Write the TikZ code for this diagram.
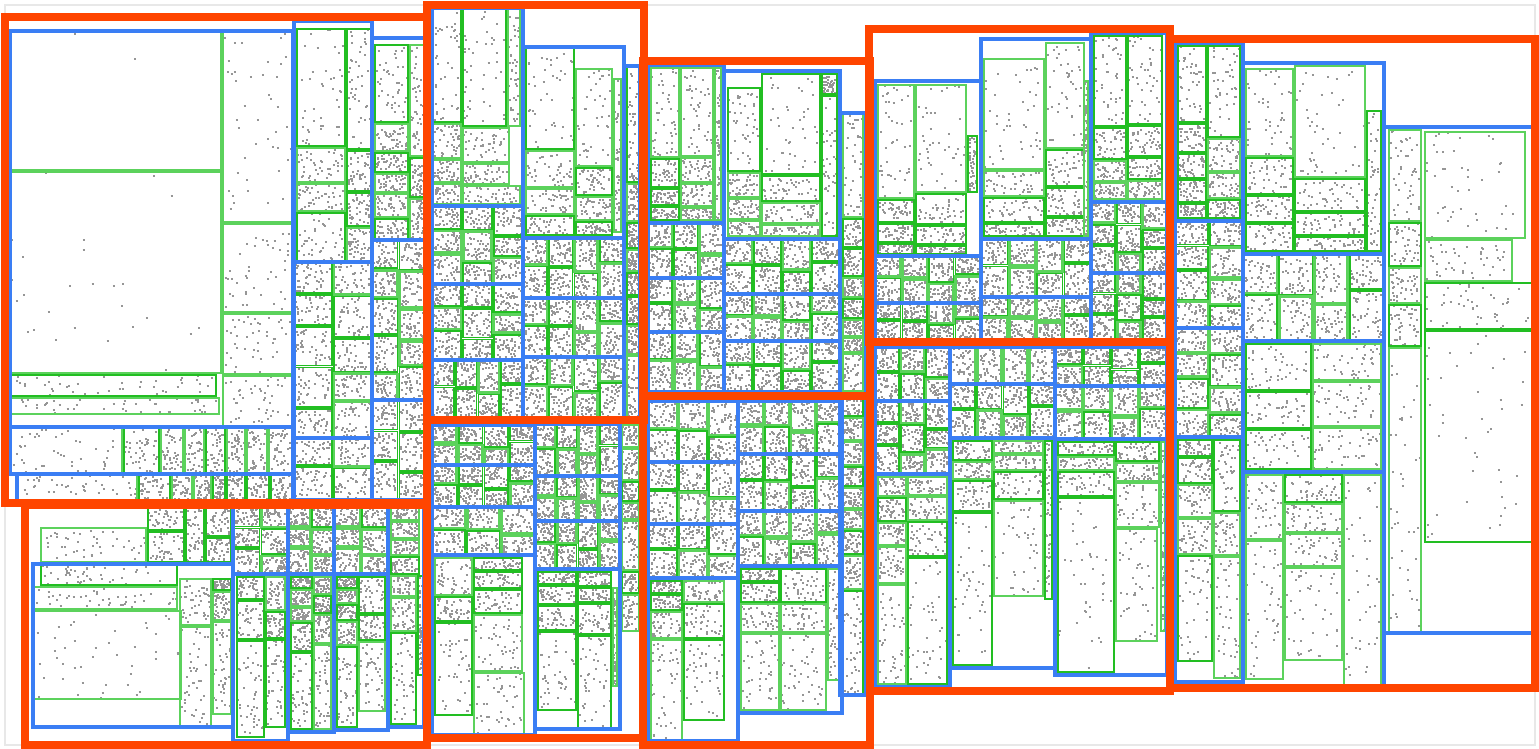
\documentclass[tikz,border=0pt]{standalone}
\definecolor{orng}{RGB}{255,69,0}
\definecolor{blu}{RGB}{58,126,244}
\definecolor{grnA}{RGB}{34,190,34}
\definecolor{grnB}{RGB}{92,210,92}
\definecolor{dotc}{RGB}{150,150,150}
\definecolor{frm}{RGB}{232,232,232}
\tikzset{
  orangebox/.style={draw=orng,line width=8},
  bluebox/.style={draw=blu,line width=3.5},
  greenboxA/.style={draw=grnA,line width=1.8},
  greenboxB/.style={draw=grnB,line width=2.6},
  framebox/.style={draw=frm,line width=1.5},
  dotline/.style={draw=dotc,line width=2,line cap=butt}
}
\newif\ifdotpass
\newcommand\pts[5]{%
  \draw[dotline] \foreach \k in {1,...,#5}{ ({#1+1+(#3-#1-4)*rnd},{#2+2+(#4-#2-4)*rnd}) -- ++(2,0) };}
\newcommand\gc[5][42]{\ifdotpass\pts{#2}{#3}{#4}{#5}{#1}\else
  \pgfmathtruncatemacro\gpar{mod(int(#2+#3),2)}%
  \ifnum\gpar=0 \draw[greenboxA] ({#2+1},{#3+1}) rectangle ({#4-1},{#5-1});\else
  \draw[greenboxB] ({#2+1},{#3+1}) rectangle ({#4-1},{#5-1});\fi\fi}
\newcommand\cg[6]{%
 \foreach \ci in {1,...,#5}{\foreach \cj in {1,...,#6}{%
   \pgfmathsetmacro\gxa{#1+(#3-#1)*(\ci-1)/#5}%
   \pgfmathsetmacro\gxb{#1+(#3-#1)*\ci/#5}%
   \pgfmathsetmacro\gya{#2+(#4-#2)*(\cj-1)/#6 + ((\cj-1)>0)*0.18*(#4-#2)/#6*sin(137*\ci+71*(\cj-1))}%
   \pgfmathsetmacro\gyb{#2+(#4-#2)*\cj/#6 + (\cj<#6)*0.18*(#4-#2)/#6*sin(137*\ci+71*\cj)}%
   \gc{\gxa}{\gya}{\gxb}{\gyb}}}}
\newcommand\cells[1]{\foreach \ax/\ay/\bx/\by in {#1}{\gc{\ax}{\ay}{\bx}{\by}}}
\newcommand\allcells{%
% orange 1
\gc[2]{10}{31}{222}{171}
\gc[26]{10}{171}{222}{374}
\cells{10/374/217/397, 10/397/220/415, 222/31/293/223, 222/223/293/313, 222/313/293/375, 222/375/293/427,
 296/28/346/147, 346/28/372/150, 296/147/346/183, 346/150/372/192, 296/183/346/212, 346/192/372/227, 296/212/346/262, 346/227/372/262,
 374/44/409/123, 374/123/409/152, 374/152/409/173, 374/173/409/193, 374/193/409/218, 374/218/409/240, 409/44/425/157, 409/157/425/198, 409/198/425/240,
 10/427/123/474, 123/427/160/474, 160/427/184/474, 184/427/205/474, 205/427/226/474, 226/427/246/474, 246/427/268/474, 268/427/293/474,
 17/474/138/503, 138/474/171/503, 171/474/193/503, 193/474/212/503, 212/474/226/503, 226/474/246/503, 246/474/270/503, 270/474/293/503}
\cg{294}{262}{372}{438}{2}{5}
\cg{294}{438}{372}{500}{2}{2}
\cg{372}{240}{425}{400}{2}{5}
\cg{372}{400}{425}{500}{2}{3}
% orange 2
\cells{40/527/147/563, 147/503/185/531, 147/531/185/563, 185/503/205/563, 205/503/232/537, 205/537/232/563,
 40/564/178/586, 33/586/178/610, 33/610/182/700, 179/578/212/626, 212/578/232/591, 212/591/232/621, 179/626/212/727, 212/621/232/715,
 236/576/265/600, 265/576/286/611, 236/600/265/640, 265/611/286/639, 236/640/265/738, 265/639/286/728,
 290/576/313/589, 290/589/313/607, 290/607/313/622, 290/622/313/652, 290/652/313/730, 313/576/332/595, 313/595/332/614, 313/614/332/644, 313/644/332/730,
 336/576/358/589, 336/589/358/604, 336/604/358/621, 336/621/358/646, 336/646/358/728, 358/576/386/614, 358/614/386/641, 358/641/386/712,
 390/507/420/521, 390/521/420/539, 390/539/420/556, 390/556/420/575, 390/575/417/597, 390/597/417/632, 390/632/417/725, 417/575/424/676}
\cg{233}{507}{288}{574}{2}{3}
\cg{288}{507}{334}{574}{2}{3}
\cg{334}{507}{388}{574}{2}{3}
% orange 3
\cells{432/8/462/123, 432/123/462/159, 432/159/462/183, 432/183/462/205, 462/8/507/127, 462/127/510/163, 462/163/510/185, 462/185/521/205, 507/8/521/127,
 525/47/575/150, 525/150/575/188, 525/188/575/215, 525/215/575/236, 575/68/613/167, 575/167/613/196, 575/196/613/221, 575/221/613/236, 613/78/622/233,
 626/66/640/183, 626/183/640/222, 626/222/640/249, 626/249/640/272, 626/272/640/296, 626/296/640/325, 626/325/640/355, 626/355/640/418}
\cg{432}{206}{523}{284}{3}{3}
\cg{432}{284}{523}{360}{3}{3}
\cg{432}{360}{523}{418}{4}{2}
\cg{523}{238}{624}{298}{4}{2}
\cg{523}{298}{624}{357}{4}{2}
\cg{523}{357}{624}{418}{4}{2}
% orange 4
\cg{432}{425}{535}{465}{4}{2}
\cg{432}{465}{535}{507}{4}{2}
\cg{432}{507}{535}{555}{3}{2}
\cg{535}{424}{620}{476}{4}{2}
\cg{535}{476}{620}{521}{4}{2}
\cg{535}{521}{620}{569}{4}{2}
\cells{434/557/473/596, 473/557/523/571, 473/571/523/589, 434/596/473/622, 473/589/523/614, 434/622/473/716, 473/614/523/672, 473/672/525/735,
 537/571/577/585, 537/585/577/605, 537/605/577/631, 537/631/577/711, 577/571/612/587, 577/587/612/603, 577/603/612/635, 577/635/612/730, 612/587/618/687,
 621/424/640/448, 621/448/640/481, 621/481/640/502, 621/502/640/520, 621/520/640/571, 621/571/640/594, 621/594/640/632}
% orange 5
\cells{650/67/680/158, 650/158/680/188, 650/188/680/206, 650/206/680/221, 680/67/714/157, 680/157/714/183, 680/183/714/207, 680/207/714/221, 714/67/722/221,
 727/87/761/172, 727/172/761/198, 727/198/761/220, 727/220/761/237, 761/73/821/175, 761/175/821/202, 761/202/821/224, 761/224/821/237, 821/73/838/95, 821/95/838/237,
 842/113/864/218, 842/218/864/248, 842/248/864/277, 842/277/864/298, 842/298/864/319, 842/319/864/337, 842/337/864/353, 842/353/864/392, 842/392/864/417,
 842/417/864/441, 842/441/864/466, 842/466/864/487, 842/487/864/509, 842/509/864/530, 842/530/864/555, 842/555/864/590, 842/590/864/695}
\cg{648}{223}{724}{278}{3}{2}
\cg{648}{278}{724}{332}{3}{2}
\cg{648}{332}{724}{392}{3}{2}
\cg{724}{239}{840}{294}{4}{2}
\cg{724}{294}{840}{341}{4}{2}
\cg{724}{341}{840}{392}{4}{2}
% orange 6
\cg{648}{401}{738}{462}{3}{2}
\cg{648}{462}{738}{524}{3}{2}
\cg{648}{524}{738}{578}{3}{2}
\cg{738}{401}{842}{454}{4}{2}
\cg{738}{454}{842}{511}{4}{2}
\cg{738}{511}{842}{566}{4}{2}
\cells{650/580/683/594, 650/594/683/611, 650/611/683/639, 650/639/683/741, 683/580/725/603, 683/603/725/639, 683/639/725/721,
 740/568/780/582, 740/582/780/603, 740/603/780/633, 740/633/780/711, 780/568/827/603, 780/603/827/633, 780/633/827/711, 827/568/840/681}
% orange 7
\cells{877/84/915/199, 877/199/915/223, 877/223/915/243, 877/243/915/255, 915/84/967/193, 915/193/967/225, 915/225/967/245, 915/245/967/255, 967/135/978/193,
 983/58/1045/170, 983/170/1045/197, 983/197/1045/223, 983/223/1045/237, 1045/42/1085/149, 1045/149/1085/187, 1045/187/1085/217, 1045/217/1085/237, 1083/80/1089/237,
 1093/35/1127/127, 1093/127/1127/160, 1093/160/1127/182, 1093/182/1127/200, 1127/35/1163/125, 1127/125/1163/157, 1127/157/1163/180, 1127/180/1163/200}
\cg{875}{256}{981}{303}{4}{2}
\cg{875}{303}{981}{340}{4}{2}
\cg{981}{239}{1091}{297}{4}{2}
\cg{981}{297}{1091}{340}{4}{2}
\cg{1091}{202}{1167}{273}{3}{3}
\cg{1091}{273}{1167}{340}{3}{3}
% orange 8
\cg{875}{347}{950}{401}{3}{2}
\cg{950}{347}{1055}{384}{4}{1}
\cg{1055}{347}{1167}{386}{4}{2}
\cg{875}{401}{950}{474}{3}{3}
\cg{950}{384}{1055}{438}{4}{2}
\cg{1055}{386}{1167}{439}{4}{2}
\cells{877/476/907/497, 877/497/907/522, 877/522/907/546, 877/546/907/584, 877/584/907/685, 907/476/948/496, 907/496/948/521, 907/521/948/557, 907/557/948/685,
 952/440/993/461, 952/461/993/480, 952/480/993/512, 952/512/993/666, 993/440/1044/454, 993/454/1044/471, 993/471/1044/500, 993/500/1044/597, 1044/440/1053/600,
 1057/441/1115/456, 1057/456/1115/471, 1057/471/1115/497, 1057/497/1115/673, 1115/441/1160/462, 1115/462/1160/482, 1115/482/1160/528, 1115/528/1158/642, 1160/441/1166/632}
% orange 9
\cells{1177/45/1207/123, 1177/123/1207/153, 1177/153/1207/179, 1177/179/1207/203, 1177/203/1207/219, 1207/45/1241/138, 1207/138/1241/172, 1207/172/1241/199, 1207/199/1241/219,
 1177/439/1213/457, 1177/457/1213/484, 1177/484/1213/518, 1177/518/1213/555, 1177/555/1213/662, 1213/439/1241/512, 1213/512/1241/556, 1213/556/1241/679,
 1245/68/1294/157, 1245/157/1294/195, 1245/195/1294/223, 1245/223/1294/252, 1294/65/1366/178, 1294/178/1366/212, 1294/212/1366/236, 1294/236/1366/252, 1366/110/1382/252,
 1245/343/1312/391, 1245/391/1312/429, 1245/429/1312/470, 1312/343/1382/381, 1312/381/1382/427, 1312/427/1382/470,
 1245/474/1284/540, 1245/540/1284/680, 1284/474/1343/503, 1284/503/1343/533, 1284/533/1343/567, 1284/567/1343/661, 1343/474/1382/686,
 1388/129/1422/222, 1388/222/1422/267, 1388/267/1422/304, 1388/304/1422/347, 1388/347/1422/633, 1424/131/1526/239, 1424/239/1513/282, 1424/282/1533/330, 1424/330/1533/543}
\cg{1175}{221}{1243}{328}{2}{4}
\cg{1175}{328}{1243}{437}{2}{4}
\cg{1243}{254}{1384}{341}{4}{2}
}
\begin{document}
\begin{tikzpicture}[x=1pt,y=-1pt]
\pgfmathsetseed{4242}
\useasboundingbox (0,0) rectangle (1539,749);
\draw[framebox] (5,5) rectangle (1535,745);
% ---------- points (first pass) ----------
\dotpasstrue
\allcells
% ---------- green leaves (second pass) ----------
\dotpassfalse
\allcells
% ---------- blue nodes ----------
\foreach \ax/\ay/\bx/\by in {10/31/293/427, 294/21/372/262, 294/262/372/438, 294/438/372/500, 372/38/425/240, 372/240/425/400, 372/400/425/500, 10/427/293/474, 17/474/293/503,
 33/564/233/727, 233/507/288/741, 288/507/334/732, 334/507/388/730, 233/507/388/574, 388/505/424/727,
 432/8/523/206, 432/206/523/284, 432/284/523/360, 432/360/523/418, 523/47/624/238, 523/238/624/298, 523/298/624/357, 523/357/624/418, 624/66/640/418,
 432/425/535/465, 432/465/535/507, 432/507/535/555, 432/555/535/735, 535/424/620/476, 535/476/620/521, 535/521/620/569, 535/569/620/729,
 648/65/724/223, 648/223/724/278, 648/278/724/332, 648/332/724/392, 724/71/840/239, 724/239/840/294, 724/294/840/341, 724/341/840/392, 840/113/866/695,
 648/401/738/462, 648/462/738/524, 648/524/738/578, 648/578/738/741, 738/401/842/454, 738/454/842/511, 738/511/842/566, 738/566/842/713,
 875/81/981/256, 875/256/981/303, 875/303/981/340, 981/39/1091/239, 981/239/1091/297, 981/297/1091/340, 1091/33/1167/202, 1091/202/1167/273, 1091/273/1167/340,
 875/347/950/401, 875/401/950/474, 875/474/950/687, 950/347/1055/384, 950/384/1055/438, 950/438/1055/668, 1055/347/1167/386, 1055/386/1167/439, 1055/439/1167/675,
 1175/43/1243/221, 1175/221/1243/328, 1175/328/1243/437, 1175/437/1243/682, 1243/63/1384/254, 1243/254/1384/341, 1243/341/1384/472, 1243/472/1384/688, 1384/127/1535/633}
 {\draw[bluebox] (\ax,\ay) rectangle (\bx,\by);}
% ---------- orange nodes ----------
\foreach \ax/\ay/\bx/\by in {5/17/427/503, 25/505/427/745, 427/5/644/420, 427/420/643/738, 643/61/870/396, 643/396/870/745, 869/29/1170/342, 870/342/1170/691, 1170/39/1535/688}
 {\draw[orangebox] (\ax,\ay) rectangle (\bx,\by);}
\end{tikzpicture}
\end{document}
